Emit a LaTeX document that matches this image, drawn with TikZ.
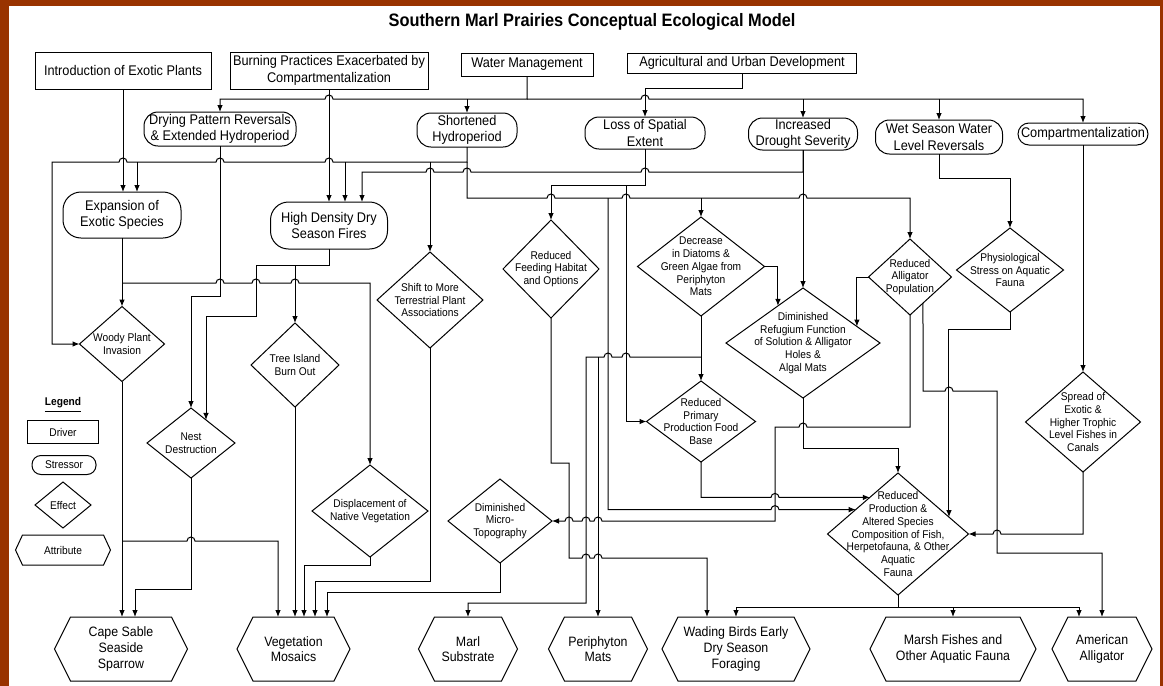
\documentclass[tikz,border=0pt]{standalone}
\usepackage{fontspec}
\setmainfont{Liberation Sans}[FakeStretch=0.91]
\usetikzlibrary{shapes.geometric,arrows.meta,calc}
\newcommand\fdrv{\fontsize{7}{8.2}\selectfont}
\newcommand\feff{\fontsize{5.6}{6.4}\selectfont}
\newcommand\fatt{\fontsize{6.8}{7.8}\selectfont}
\newcommand\flgd{\fontsize{5.6}{6.4}\selectfont}
\newcommand\hopR[2]{-- (#1-4,#2) arc[start angle=180,end angle=0,radius=2pt]}
\newcommand\hopL[2]{-- (#1+4,#2) arc[start angle=0,end angle=180,radius=2pt]}
\newcommand\hexo[2]{\draw (#1.west) -- ([xshift=#2]#1.north west) -- ([xshift=-#2]#1.north east) -- (#1.east) -- ([xshift=-#2]#1.south east) -- ([xshift=#2]#1.south west) -- cycle;}
\definecolor{framecol}{RGB}{153,51,0}
\tikzset{
  every node/.style={inner sep=0pt, outer sep=0pt},
  drv/.style 2 args={draw, rectangle, minimum width=#1*0.5pt, minimum height=#2*0.5pt, align=center, font=\fdrv},
  str/.style n args={3}{draw, rectangle, rounded corners=#3, minimum width=#1*0.5pt, minimum height=#2*0.5pt, align=center, font=\fdrv},
  eff/.style 2 args={draw, diamond, minimum width=#1*0.5pt, minimum height=#2*0.5pt},
  efft/.style={font=\feff, align=center},
  att/.style 2 args={rectangle, minimum width=#1*0.5pt, minimum height=#2*0.5pt, align=center, font=\fatt},
  arr/.style={-{Latex[length=3.5pt,width=2.8pt]}},
}
\begin{document}
\begin{tikzpicture}[x=0.5pt,y=-0.5pt,line width=0.5pt]
\useasboundingbox (0,0) rectangle (1163,686);
\fill[framecol] (0,0) rectangle (1163,686);
\fill[white] (9,6) rectangle (1160,686);

\node[font=\fontsize{9}{10}\selectfont\bfseries] (title) at (592,22) {Southern Marl Prairies Conceptual Ecological Model};

% drivers
\node[drv={176}{37}] (intro) at (123,70.5) {Introduction of Exotic Plants};
\node[drv={198}{37}] (burn) at (329,70.5) {Burning Practices Exacerbated by\\Compartmentalization};
\node[drv={132}{23}] (water) at (527,64.5) {Water Management};
\node[drv={229}{20}] (agri) at (742,63) {Agricultural and Urban Development};

% stressors
\node[str={152}{34}{7pt}] (dry) at (220,129) {Drying Pattern Reversals\\\& Extended Hydroperiod};
\node[str={100}{34}{7pt}] (short) at (467,130) {Shortened\\Hydroperiod};
\node[str={120}{32}{7pt}] (loss) at (645,133) {Loss of Spatial\\Extent};
\node[str={109}{32}{7pt}] (drought) at (803,134) {Increased\\Drought Severity};
\node[str={127}{34}{7pt}] (wet) at (939,137) {Wet Season Water\\Level Reversals};
\node[str={130}{22}{5.5pt}] (comp) at (1083,134) {Compartmentalization};
\node[str={118}{46}{9pt}] (expan) at (122,215) {Expansion of\\Exotic Species};
\node[str={117}{47}{9pt}] (fires) at (329,225.5) {High Density Dry\\Season Fires};

% effects
\node[eff={85}{75}, label={[efft]center:{Woody Plant\\Invasion}}] (woody) at (122,344) {};
\node[eff={88}{70}, label={[efft]center:{Nest\\Destruction}}] (nest) at (191,443) {};
\node[eff={88}{84}, label={[efft]center:{Tree Island\\Burn Out}}] (tree) at (295,365) {};
\node[eff={106}{96}, label={[efft]center:{Shift to More\\Terrestrial Plant\\Associations}}] (shift) at (430,300) {};
\node[eff={96}{98}, label={[efft]center:{Reduced\\Feeding Habitat\\and Options}}] (feed) at (551,269) {};
\node[eff={127}{99}, label={[efft]center:{Decrease\\in Diatoms \&\\Green Algae from\\Periphyton\\Mats}}] (diat) at (701,266.5) {};
\node[eff={154}{110}, label={[efft]center:{Diminished\\Refugium Function\\of Solution \& Alligator\\Holes \&\\Algal Mats}}] (refu) at (803,343) {};
\node[eff={83}{76}, label={[efft]center:{Reduced\\Alligator\\Population}}] (allig) at (910,277) {};
\node[eff={107}{84}, label={[efft]center:{Physiological\\Stress on Aquatic\\Fauna}}] (phys) at (1010,270) {};
\node[eff={115}{100}, label={[efft]center:{Spread of\\Exotic \&\\Higher Trophic\\Level Fishes in\\Canals}}] (spread) at (1083,422) {};
\node[eff={109}{81}, label={[efft]center:{Reduced\\Primary\\Production Food\\Base}}] (prim) at (701,421.5) {};
\node[eff={141}{122}, label={[efft]center:{Reduced\\Production \&\\Altered Species\\Composition of Fish,\\Herpetofauna, \& Other\\Aquatic\\Fauna}}] (redp) at (898,534) {};
\node[eff={104}{84}, label={[efft]center:{Diminished\\Micro-\\Topography}}] (micro) at (500,521) {};
\node[eff={116}{92}, label={[efft]center:{Displacement of\\Native Vegetation}}] (disp) at (370,511) {};

% attributes
\node[att={133}{64}] (cape) at (121,649) {Cape Sable\\Seaside\\Sparrow}; \hexo{cape}{8pt}
\node[att={113}{64}] (veg) at (293.5,649) {Vegetation\\Mosaics}; \hexo{veg}{8pt}
\node[att={99}{64}] (marl) at (468,649) {Marl\\Substrate}; \hexo{marl}{8pt}
\node[att={99}{64}] (peri) at (598,649) {Periphyton\\Mats}; \hexo{peri}{8pt}
\node[att={148}{64}] (wade) at (736,649) {Wading Birds Early\\Dry Season\\Foraging}; \hexo{wade}{8pt}
\node[att={166}{64}] (marsh) at (953,649) {Marsh Fishes and\\Other Aquatic Fauna}; \hexo{marsh}{8pt}
\node[att={100}{64}] (amer) at (1102,649) {American\\Alligator}; \hexo{amer}{8pt}

% legend
\node[font=\flgd\bfseries] (lg) at (63,405) {\underline{Legend}};
\node[drv={71}{23}, font=\flgd] (ld) at (63,432) {Driver};
\node[str={64}{19}{4.5pt}, font=\flgd] (ls) at (64,465) {Stressor};
\node[eff={56}{46}, label={[efft,font=\flgd]center:Effect}] (le) at (63,505) {};
\node[att={95}{30}, font=\flgd] (la) at (63,550) {Attribute}; \hexo{la}{3.5pt}

% ---- connectors: top
\draw[arr] (intro.south) -- (intro.south |- expan.north);
\draw[arr] (burn.south) -- (fires.north);
\draw[arr] (water.south) -- (527,99) \hopL{329}{99} -- (220,99) -- (dry.north);
\draw[arr] (527,99) \hopR{645}{99} -- (1083,99) -- (comp.north);
\draw[arr] (467,99) -- (short.north);
\draw[arr] (803,99) -- (drought.north);
\draw[arr] (939,99) -- (wet.north);
\draw[arr] (agri.south) -- (742,88) -- (645,88) -- (loss.north);

% shortened hydroperiod
\draw[arr] (short.south) -- (467,162) \hopL{329}{162} \hopL{220}{162} \hopL{123}{162} -- (52,162) |- (woody.west);
\draw[arr] (430,162) -- (shift.north);
\draw[arr] (345,162) -- (345,0 |- fires.north);
\draw[arr] (137,162) -- (137,0 |- expan.north);
\draw[arr] (467,162) -- (467,198) \hopR{551}{198} \hopR{626}{198} \hopR{803}{198} -- (910,198) -- (allig.north);
\draw[arr] (701,198) -- (diat.north);
\draw[arr] (608,198) -- (608,509.6) \hopR{775}{509.6} -- ($(redp.north)!0.6!(redp.west)$);

% drought
\draw[arr] (drought.south) -- (803,172) \hopL{645}{172} \hopL{467}{172} \hopL{430}{172} -- (362,172) -- (362,0 |- fires.north);
\draw[arr] (drought.south) -- (refu.north);

% loss of spatial extent
\draw[arr] (loss.south) -- (645,185) -- (551,185) -- (feed.north);
\draw[arr] (626,185) -- (626,421.5) -- (prim.west);

% diatoms
\draw[arr] (diat.south) -- (prim.north);
\draw[arr] (701,357) \hopL{626}{357} \hopL{608}{357} -- (586,357) -- (586,603) -- (468,603) -- (marl.north);
\draw[arr] (598,357) -- (peri.north);
\draw[arr] (diat.east) -| ($(refu.north)!0.325!(refu.west)$);

% alligator population
\draw[arr] (allig.west) -| ($(refu.north)!0.7!(refu.east)$);
\draw[arr] (allig.south) -- (910,427) \hopL{803}{427} -- (775,427) -- (775,521) \hopL{598}{521} \hopL{586}{521} \hopL{569}{521} -- (micro.east);
\draw[arr] ($(allig.south)!0.313!(allig.east)$) -- (923,391) \hopR{949}{391} -- (997,391) -- (997,553) -- (1102,553) -- (amer.north);

% refugium, primary, physiological, wet, compartmentalization, spread
\draw[arr] (refu.south) -- (803,448) -| (redp.north);
\draw[arr] (prim.south) -- (701,497.4) \hopR{775}{497.4} -- ($(redp.north)!0.4!(redp.west)$);
\draw[arr] (phys.south) -- (1010,329) -| ($(redp.north)!0.723!(redp.east)$);
\draw[arr] (wet.south) -- (939,178) -| (phys.north);
\draw[arr] (comp.south) -- (spread.north);
\draw[arr] (spread.south) -- (1083,534) \hopL{997}{534} -- (redp.east);

% reduced production outputs
\draw[arr] (redp.south) -- (898,607) -- (736,607) -- (wade.north);
\draw[arr] (898,607) -- (1079,607) -- (1079,0 |- amer.north);
\draw[arr] (953,607) -- (marsh.north);

% feeding habitat
\draw[arr] (feed.south) -- (551,463) -- (569,463) -- (569,558) \hopR{586}{558} \hopR{598}{558} -- (707,558) -- (707,0 |- wade.north);

% left part
\draw[arr] (expan.south) -- (woody.north);
\draw[arr] (122,283) \hopR{220}{283} \hopR{256}{283} \hopR{295}{283} -- (370,283) -- (disp.north);
\draw[arr] (dry.south) -- (220,296) -| (nest.north);
\draw[arr] (fires.south) -- (329,265) -- (256,265) -- (256,316) -| ($(nest.north)!0.341!(nest.east)$);
\draw[arr] (295,265) -- (tree.north);
\draw[arr] (woody.south) -- (woody.south |- cape.north);
\draw[arr] (122,541) \hopR{191}{541} -- (278,541) -- (278,0 |- veg.north);
\draw[arr] (nest.south) -- (191,589) -- (135,589) -- (135,0 |- cape.north);
\draw[arr] (tree.south) -- (tree.south |- veg.north);
\draw[arr] (disp.south) -- (370,565) -- (304,565) -- (304,0 |- veg.north);
\draw[arr] (shift.south) -- (430,581) -- (315,581) -- (315,0 |- veg.north);
\draw[arr] (micro.south) -- (500,592) -- (327,592) -- (327,0 |- veg.north);
\end{tikzpicture}
\end{document}
